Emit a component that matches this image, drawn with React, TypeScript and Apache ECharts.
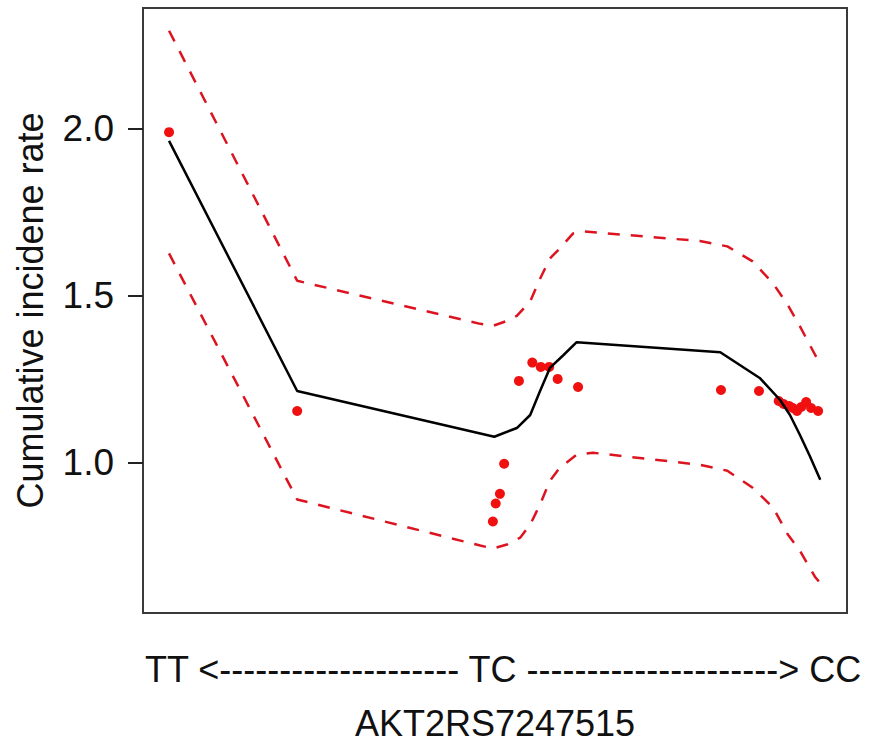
import React, { useEffect, useRef } from "react";
import * as echarts from "echarts";

// x positions on a 0–100 genotype-score scale (TT at left, CC at right)
const fitX = [3.7, 21.9, 49.9, 53.1, 55.0, 56.4, 57.8, 59.7, 61.6, 82.0, 87.6, 90.5, 91.9, 93.3, 94.7, 96.2];
const fitY = [1.964, 1.215, 1.078, 1.104, 1.143, 1.215, 1.284, 1.322, 1.361, 1.331, 1.254, 1.188, 1.143, 1.084, 1.021, 0.949];

const upperX = [3.7, 21.9, 47.9, 49.7, 51.7, 53.1, 55.0, 56.4, 57.8, 59.2, 61.1, 62.5, 79.1, 83.0, 86.6, 89.5, 91.6, 93.3, 95.5, 96.2];
const upperY = [2.294, 1.545, 1.416, 1.41, 1.425, 1.44, 1.483, 1.551, 1.612, 1.642, 1.687, 1.693, 1.664, 1.648, 1.603, 1.537, 1.472, 1.409, 1.322, 1.3];

const lowerX = [3.7, 21.9, 47.9, 49.7, 51.7, 53.6, 55.0, 56.4, 57.8, 59.2, 61.6, 63.9, 79.1, 83.0, 86.6, 89.5, 91.6, 93.3, 95.5, 96.2];
const lowerY = [1.627, 0.89, 0.752, 0.743, 0.755, 0.776, 0.815, 0.875, 0.946, 0.985, 1.024, 1.03, 0.994, 0.976, 0.925, 0.866, 0.785, 0.737, 0.657, 0.64];

const obsX = [3.7, 21.9, 49.7, 50.1, 50.7, 51.3, 53.4, 55.3, 56.5, 57.7, 58.9, 61.8, 82.1, 87.5, 90.3, 91.0, 91.8, 92.3, 92.9, 93.5, 94.2, 94.9, 95.9];
const obsY = [1.99, 1.155, 0.824, 0.878, 0.907, 0.997, 1.245, 1.3, 1.287, 1.287, 1.251, 1.227, 1.218, 1.215, 1.185, 1.176, 1.17, 1.164, 1.155, 1.167, 1.182, 1.164, 1.155];

const yTicks = [1.0, 1.5, 2.0];
const genotypeAxisText = "TT <-------------------- TC ---------------------> CC";
const xTitle = "AKT2RS7247515";
const yTitle = "Cumulative incidene rate";

const zip = (xs: number[], ys: number[]) => xs.map((x, i) => [x, ys[i]]);

export default function App() {
  const ref = useRef<HTMLDivElement>(null);
  useEffect(() => {
    document.body.style.margin = "0";
    if (!ref.current) return;
    const chart = echarts.init(ref.current, null, { renderer: "svg" });
    const font = "'Liberation Sans', Arial, sans-serif";
    const dashed = { color: "#dc1420", width: 2.5, type: [12, 11] as any, cap: "butt" };
    chart.setOption({
      animation: false,
      backgroundColor: "#ffffff",
      grid: {
        left: 143,
        top: 8,
        right: 37,
        bottom: 130,
        show: true,
        borderColor: "#3a3a3a",
        borderWidth: 2,
        backgroundColor: "transparent",
      },
      xAxis: {
        type: "value",
        min: 0,
        max: 100,
        axisLine: { show: false },
        axisTick: { show: false },
        axisLabel: { show: false },
        splitLine: { show: false },
        name: xTitle,
        nameLocation: "middle",
        nameGap: 92,
        nameTextStyle: { fontSize: 36, color: "#111", fontFamily: font },
      },
      yAxis: {
        type: "value",
        min: 0.55,
        max: 2.362,
        axisLine: { show: false },
        splitLine: { show: false },
        axisTick: {
          show: true,
          length: 15,
          customValues: yTicks,
          lineStyle: { color: "#222", width: 2 },
        },
        axisLabel: {
          customValues: yTicks,
          formatter: (v: number) => v.toFixed(1),
          fontSize: 37,
          color: "#111",
          fontFamily: font,
          margin: 29,
        },
        name: yTitle,
        nameLocation: "middle",
        nameGap: 95,
        nameTextStyle: { fontSize: 36, color: "#111", fontFamily: font },
      },
      graphic: [
        {
          type: "text",
          x: 145,
          y: 669,
          style: {
            text: genotypeAxisText,
            fontSize: 36,
            fontFamily: font,
            fill: "#111",
            align: "left",
            verticalAlign: "middle",
          },
        },
      ],
      series: [
        {
          type: "scatter",
          data: zip(obsX, obsY),
          symbolSize: 10,
          itemStyle: { color: "#f01010", opacity: 1 },
        },
        {
          type: "line",
          data: zip(fitX, fitY),
          symbol: "none",
          lineStyle: { color: "#000", width: 2.5 },
        },
        {
          type: "line",
          data: zip(upperX, upperY),
          symbol: "none",
          lineStyle: dashed,
        },
        {
          type: "line",
          data: zip(lowerX, lowerY),
          symbol: "none",
          lineStyle: dashed,
        },
      ],
    });
    return () => chart.dispose();
  }, []);
  return <div ref={ref} style={{ width: 884, height: 746 }} />;
}
